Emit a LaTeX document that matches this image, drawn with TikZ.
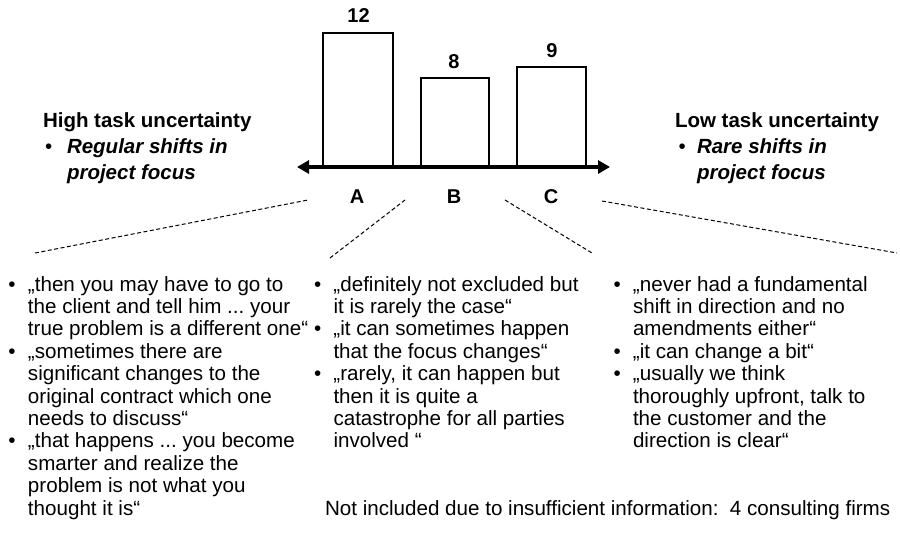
\documentclass[tikz,border=0pt]{standalone}
\usepackage{fontspec}
\setmainfont{Liberation Sans}
\usetikzlibrary{arrows.meta}
\frenchspacing

% bullet cell used in the quote lists
\newcommand\qitem{\makebox[19.5pt][l]{\textbullet}}

\begin{document}
\begin{tikzpicture}[x=1pt,y=-1pt,
  every node/.style={inner sep=0pt, outer sep=0pt},
  body/.style={font=\fontsize{20.6}{22.4}\selectfont, anchor=base west},
  head/.style={font=\fontsize{20.5}{24}\selectfont\bfseries, anchor=base west},
  headsub/.style={font=\fontsize{20.5}{24}\selectfont\bfseries\itshape, anchor=base west},
  count/.style={font=\fontsize{20}{24}\selectfont\bfseries, anchor=base},
  cat/.style={font=\fontsize{20}{24}\selectfont\bfseries, anchor=base},
  bar/.style={draw=black, fill=white, line width=2pt},
  axisline/.style={line width=4pt, {Triangle[length=12pt,width=13pt]}-{Triangle[length=12pt,width=13pt]}},
  fanline/.style={dashed, dash pattern=on 4pt off 2.5pt, line width=1pt}
]
\useasboundingbox (0,0) rectangle (900,536);

% bars of the chart
\draw[bar] (323,167) rectangle (393,33)  coordinate (barAtop);
\draw[bar] (421,167) rectangle (489,78)  coordinate (barBtop);
\draw[bar] (517,167) rectangle (586,67)  coordinate (barCtop);

% frequency labels
\node[count] (nA) at (358.5,22) {12};
\node[count] (nB) at (454,68) {8};
\node[count] (nC) at (552,57) {9};

% double-headed axis
\coordinate (axL) at (297,167);
\coordinate (axR) at (610,167);
\draw[axisline] (axL) -- (axR);

% category letters
\node[cat] (catA) at (357,203) {A};
\node[cat] (catB) at (454,203) {B};
\node[cat] (catC) at (551,203) {C};

% left heading
\node[head] (hiHead) at (43,127) {High task uncertainty};
\node[font=\fontsize{20.5}{24}\selectfont, anchor=base west] (hiBul) at (45,153) {\textbullet};
\node[headsub] (hiSub1) at (67,153) {Regular shifts in};
\node[headsub] (hiSub2) at (67,179) {project focus};

% right heading
\node[head] (loHead) at (675,127) {Low task uncertainty};
\node[font=\fontsize{20.5}{24}\selectfont, anchor=base west] (loBul) at (678.5,153) {\textbullet};
\node[headsub] (loSub1) at (697,153) {Rare shifts in};
\node[headsub] (loSub2) at (697,179) {project focus};

% dashed fan lines from the categories to the quote columns
\coordinate (fA1) at (35,253);   \coordinate (fA2) at (308,200);
\coordinate (fB1) at (330,258);  \coordinate (fB2) at (405,200);
\coordinate (fC1) at (505,200);  \coordinate (fC2) at (592,253);
\coordinate (fD1) at (602,201);  \coordinate (fD2) at (897,253);
\draw[fanline] (fA1) -- (fA2);
\draw[fanline] (fB1) -- (fB2);
\draw[fanline] (fC1) -- (fC2);
\draw[fanline] (fD1) -- (fD2);

% quote columns
\node[body] (colA) at (8.5,291) {\begin{tabular}[t]{@{}l@{}l@{}}
\qitem & „then you may have to go to\\
       & the client and tell him ... your\\
       & true problem is a different one“\\
\qitem & „sometimes there are\\
       & significant changes to the\\
       & original contract which one\\
       & needs to discuss“\\
\qitem & „that happens ... you become\\
       & smarter and realize the\\
       & problem is not what you\\
       & thought it is“
\end{tabular}};

\node[body] (colB) at (314,291) {\begin{tabular}[t]{@{}l@{}l@{}}
\qitem & „definitely not excluded but\\
       & it is rarely the case“\\
\qitem & „it can sometimes happen\\
       & that the focus changes“\\
\qitem & „rarely, it can happen but\\
       & then it is quite a\\
       & catastrophe for all parties\\
       & involved “
\end{tabular}};

\node[body] (colC) at (613.5,291) {\begin{tabular}[t]{@{}l@{}l@{}}
\qitem & „never had a fundamental\\
       & shift in direction and no\\
       & amendments either“\\
\qitem & „it can change a bit“\\
\qitem & „usually we think\\
       & thoroughly upfront, talk to\\
       & the customer and the\\
       & direction is clear“
\end{tabular}};

% footnote
\node[body] (note) at (325,515) {Not included due to insufficient information:\ \ 4 consulting firms};
\end{tikzpicture}
\end{document}
